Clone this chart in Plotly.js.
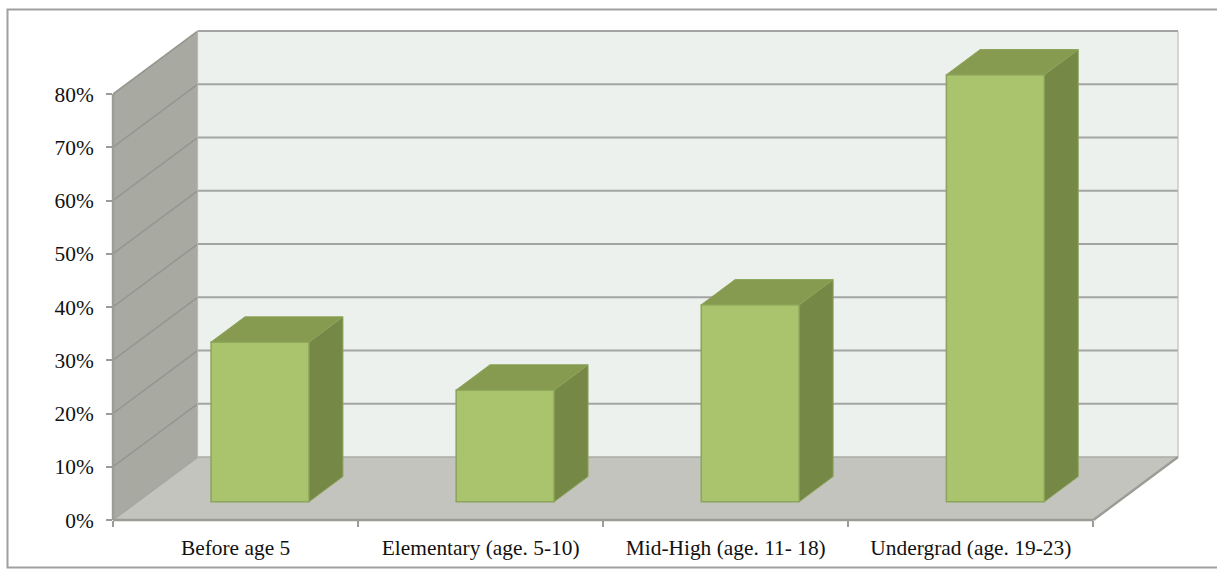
<!DOCTYPE html>
<html>
<head>
<meta charset="utf-8">
<script src="https://cdn.plot.ly/plotly-3.0.1.min.js"></script>
<style>html,body{margin:0;padding:0;background:#fff}#chart{width:1217px;height:569px}</style>
</head>
<body>
<div id="chart"></div>
<script>
// Share of respondents per life stage
var categories = ['Before age 5', 'Elementary (age. 5-10)', 'Mid-High (age. 11- 18)', 'Undergrad (age. 19-23)'];
var percents = [30, 21, 37, 80.2];
var percentTicks = [0, 10, 20, 30, 40, 50, 60, 70, 80];

var pxPerPct = 5.33, pxPerCat = 245.1;

// Oblique projection: how far one full unit of depth shifts a point
var DEPTH_X = 84.6 / pxPerCat;   // category units
var DEPTH_Y = 63 / pxPerPct;     // percent units
var BAR_WIDTH = 0.4;
var BAR_NEAR = 0.29;             // depth of a bar's front face
var BAR_FAR = 0.69;              // depth of a bar's back face

var X0 = -0.5;
var X1 = 3.5;
var Y_TOP = 80;

var M = { l: 113, r: 27, t: 20, b: 48.5 };
var plotW = 1217 - M.l - M.r, plotH = 569 - M.t - M.b;
var xRange = [X0, X0 + plotW / pxPerCat];
var yRange = [0, plotH / pxPerPct];
var labelFont = { family: '"Liberation Serif", serif', size: 21.4, color: '#111111' };

function px(x, d) { return x + d * DEPTH_X; }
function py(v, d) { return v + d * DEPTH_Y; }
function polyPath(pts) {
  return 'M' + pts.map(function (p) { return p[0] + ',' + p[1]; }).join('L') + 'Z';
}
function area(pts, fill) {
  return { type: 'path', xref: 'x', yref: 'y', layer: 'below', path: polyPath(pts),
           fillcolor: fill, line: { width: 0 } };
}
function seg(x0, y0, x1, y1, color, width) {
  return { type: 'line', xref: 'x', yref: 'y', layer: 'below', x0: x0, y0: y0, x1: x1, y1: y1,
           line: { color: color, width: width } };
}
// Paper-referenced line built from axis values; these sit on the plot edge and must not be clipped
function edge(x0, y0, x1, y1) {
  function nx(x) { return (x - xRange[0]) / (xRange[1] - xRange[0]); }
  function ny(y) { return (y - yRange[0]) / (yRange[1] - yRange[0]); }
  return { type: 'line', xref: 'paper', yref: 'paper', layer: 'above',
           x0: nx(x0), y0: ny(y0), x1: nx(x1), y1: ny(y1),
           line: { color: '#9a9c96', width: 2.4 } };
}

var shapes = [
  // Side wall, back wall and floor of the chart box
  area([[X0, 0], [px(X0, 1), py(0, 1)], [px(X0, 1), py(Y_TOP, 1)], [X0, Y_TOP]], '#a8aaa1'),
  area([[px(X0, 1), py(0, 1)], [px(X1, 1), py(0, 1)], [px(X1, 1), py(Y_TOP, 1)], [px(X0, 1), py(Y_TOP, 1)]], '#edf1ee'),
  area([[X0, 0], [X1, 0], [px(X1, 1), py(0, 1)], [px(X0, 1), py(0, 1)]], '#c2c4bd')
];

// Gridlines run along the side wall and across the back wall
percentTicks.forEach(function (t) {
  if (t > 0) {
    shapes.push(seg(X0, t, px(X0, 1), py(t, 1), '#94968f', 1.5));
    shapes.push(seg(px(X0, 1), py(t, 1), px(X1, 1), py(t, 1), '#a3a5a2', 2));
  }
});
shapes.push(seg(px(X0, 1), py(0, 1), px(X1, 1), py(0, 1), '#a9aba6', 1.5));
shapes.push(seg(px(X0, 1), py(0, 1), px(X0, 1), py(Y_TOP, 1), '#b4b6b1', 1));
shapes.push(seg(px(X1, 1), py(0, 1), px(X1, 1), py(Y_TOP, 1), '#b4b6b1', 1));
shapes.push(seg(X0, 0, px(X0, 1), py(0, 1), '#a5a7a2', 1.5));

// Axis lines stop at the last tick and at the front of the floor
shapes.push(edge(X0, 0, X0, Y_TOP));
shapes.push(edge(X0, 0, X1, 0));
shapes.push(edge(X1, 0, px(X1, 1), py(0, 1)));

var traces = [];

// Front faces of the bars
traces.push({
  type: 'bar',
  x: percents.map(function (v, i) { return px(i, BAR_NEAR); }),
  y: percents,
  base: percents.map(function () { return py(0, BAR_NEAR); }),
  width: BAR_WIDTH,
  marker: { color: '#a9c46d', line: { color: '#8ca45b', width: 1.5 } },
  showlegend: false,
  hoverinfo: 'skip'
});

// Right side and top of each bar
percents.forEach(function (v, i) {
  var l = i + BAR_WIDTH * -0.5;
  var r = i + BAR_WIDTH * 0.5;
  var side = [[px(r, BAR_NEAR), py(0, BAR_NEAR)], [px(r, BAR_FAR), py(0, BAR_FAR)],
              [px(r, BAR_FAR), py(v, BAR_FAR)], [px(r, BAR_NEAR), py(v, BAR_NEAR)],
              [px(r, BAR_NEAR), py(0, BAR_NEAR)]];
  var top = [[px(l, BAR_NEAR), py(v, BAR_NEAR)], [px(r, BAR_NEAR), py(v, BAR_NEAR)],
             [px(r, BAR_FAR), py(v, BAR_FAR)], [px(l, BAR_FAR), py(v, BAR_FAR)],
             [px(l, BAR_NEAR), py(v, BAR_NEAR)]];
  [[side, '#768845'], [top, '#869a50']].forEach(function (f) {
    traces.push({
      type: 'scatter', mode: 'lines', fill: 'toself',
      x: f[0].map(function (p) { return p[0]; }),
      y: f[0].map(function (p) { return p[1]; }),
      fillcolor: f[1],
      line: { color: '#8ca45b', width: 1 },
      showlegend: false, hoverinfo: 'skip'
    });
  });
});

// Frame around the whole figure, running off the right edge
function fx(p) { return (p - M.l) / plotW; }
function fy(p) { return 1 - (p - M.t) / plotH; }
shapes.push({ type: 'path', xref: 'paper', yref: 'paper', layer: 'below',
  path: 'M' + fx(1220) + ',' + fy(9.5) + 'L' + fx(7.5) + ',' + fy(9.5) + 'L' + fx(7.5) + ',' + fy(568) + 'L' + fx(1220) + ',' + fy(568),
  line: { color: '#a0a0a0', width: 2 } });

var layout = {
  width: 1217, height: 569,
  paper_bgcolor: '#ffffff', plot_bgcolor: 'rgba(0,0,0,0)',
  margin: { l: M.l, r: M.r, t: M.t, b: M.b, pad: 0 },
  showlegend: false,
  font: labelFont,
  xaxis: {
    type: 'linear',
    range: xRange,
    showgrid: false, zeroline: false, showline: false,
    tickmode: 'array',
    tickvals: categories.map(function (c, i) { return i; }),
    ticktext: categories,
    ticks: '', ticklabelstandoff: 13,
    tickfont: labelFont,
    minor: { tickmode: 'array', tickvals: [-0.5, 0.5, 1.5, 2.5, 3.5], ticks: 'outside',
             ticklen: 6, tickwidth: 2, tickcolor: '#9a9c96', showgrid: false }
  },
  yaxis: {
    range: yRange,
    showgrid: false, zeroline: false, showline: false,
    tickmode: 'array',
    tickvals: percentTicks,
    ticktext: percentTicks.map(function (t) { return t + '%'; }),
    ticks: 'outside', ticklen: 6, tickwidth: 2, tickcolor: '#9a9c96',
    ticklabelstandoff: 8,
    tickfont: labelFont
  },
  shapes: shapes
};

Plotly.newPlot('chart', traces, layout, { displayModeBar: false, staticPlot: true });
</script>
</body>
</html>
